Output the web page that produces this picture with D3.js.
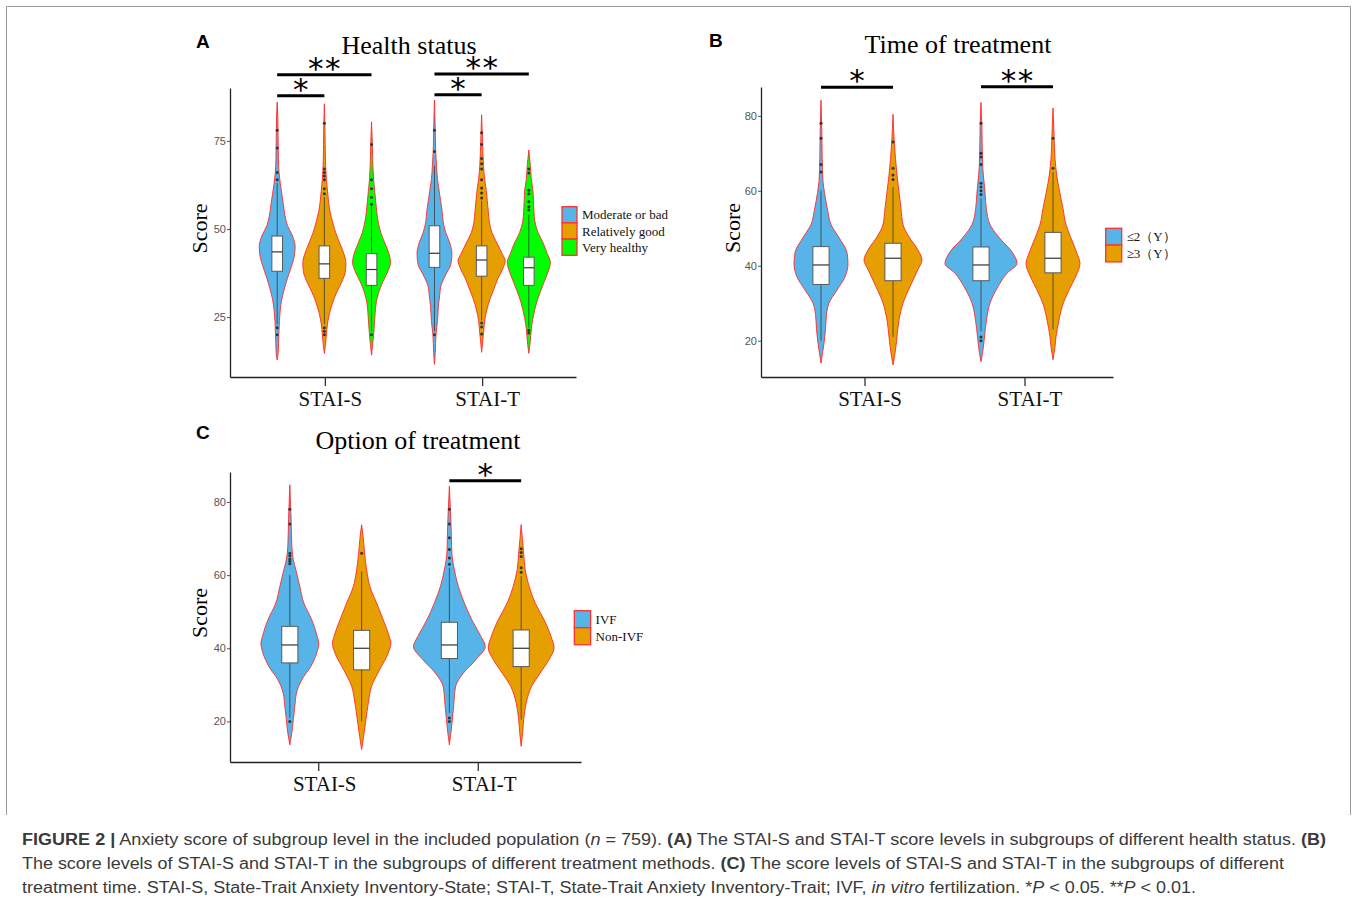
<!DOCTYPE html>
<html><head><meta charset="utf-8">
<script src="https://cdn.jsdelivr.net/npm/d3@7"></script>
<style>body{margin:0;background:#fff}</style>
</head><body>
<svg id="c" width="1357" height="910"></svg>
<script>
// ---------------- DATA ----------------
const categories = ["STAI-S", "STAI-T"];
const groupsA = ["Moderate or bad", "Relatively good", "Very healthy"];
const groupsB = ["≤2（Y）", "≥3（Y）"];
const groupsC = ["IVF", "Non-IVF"];
const colorsA = ["#56B4E9", "#E69F00", "#00FF00"];
const colorsBC = ["#56B4E9", "#E69F00"];
const yTicksA = [25, 50, 75];
const yTicksBC = [20, 40, 60, 80];
const yDomainA = [8, 90];
const yDomainB = [10.3, 87.7];
const yDomainC = [8.9, 88.2];

// violin profiles: [score, relative density]
const vA_S_mod = [[12.8,0],[15,1],[20,1.6],[24,2.2],[27,3],[30,4.5],[33,7],[36,10],[39,13.5],[42,16.5],[45,17.5],[48,15],[51,10],[54,7.5],[57,6],[60,4.5],[63,3],[66,1.8],[70,1.2],[76,0.9],[82,0.6],[86,0]];
const vA_S_rel = [[14.7,0],[17,1],[20,2],[23,3],[26,5],[29,8],[32,12],[35,17],[38,20.5],[40.5,21],[43,19],[46,15],[49,11],[52,8],[55,5.5],[58,4],[61,3],[64,2],[68,1.2],[74,0.8],[80,0.5],[85.5,0]];
const vA_S_vh  = [[14.2,0],[17,1],[20,2],[23,2.8],[26,3.5],[29,4.5],[32,7],[35,11],[38,16],[40.5,18.5],[43,17],[46,13],[49,9],[52,6.5],[55,5],[58,4],[61,3],[64,2],[68,1.3],[74,0.8],[80.4,0]];
const vA_T_mod = [[11.6,0],[15,0.8],[20,1.5],[24,3],[28,3.8],[31,5],[34,6.5],[37,11],[40,16],[43,17],[46,15],[49,11],[52,8.5],[55,7.5],[58,6],[61,4.5],[64,3],[68,2],[72,1.2],[78,0.8],[86.6,0]];
const vA_T_rel = [[15,0],[18,1],[21,2],[24,3],[27,5],[30,8],[33,12],[36,16],[39,21],[41,23],[43,20],[46,15],[49,10],[52,7.5],[55,6.5],[58,5.5],[61,4.5],[64,3],[68,1.8],[74,1],[82.4,0]];
const vA_T_vh  = [[14.7,0],[17,1],[20,2],[23,3],[26,5],[29,7.5],[32,11],[35,15],[38,19],[40.5,21],[43,18],[46,14],[49,9],[52,6],[55,5],[58,4.5],[61,4],[64,2.5],[68,1.5],[72.4,0]];

const vB_S_1 = [[14,0],[16.6,1.5],[19.3,3],[23,4.5],[27,5.5],[30,8],[33.5,16],[37,24],[40.5,27],[43.5,26],[47.5,18],[51,10],[55,6.5],[59.5,3.5],[62.5,2],[68.7,1.2],[76,0.8],[84.2,0]];
const vB_S_2 = [[13.5,0],[16.6,2],[21,4],[25.5,6],[30,10],[34.4,17],[39,25],[41.5,29],[44.2,25],[47.7,16],[51,10],[55.3,8],[59.7,6],[64.2,4],[68.6,2.5],[73,1.3],[80.4,0]];
const vB_T_1 = [[14.4,0],[16.6,1.5],[21,3.5],[25.5,5.5],[30,9],[34.4,17],[38,26],[40.6,36],[43.3,32],[47.7,17.5],[51,9],[55.3,5.3],[59.7,4],[62.4,3],[66,1.8],[72,1.2],[78,0.8],[83.6,0]];
const vB_T_2 = [[14.9,0],[18.4,2],[21,3],[25.5,6],[29,9],[33.5,16],[37,22.5],[40.6,27],[43.3,24],[47.7,17.5],[51,13],[55.3,10],[59.7,6.7],[64.2,3.7],[68.6,2],[75.3,1],[82.1,0]];

const vC_S_1 = [[13.6,0],[16.8,2],[20.5,3.5],[24.1,5],[27.8,6.7],[31.4,12],[35,21],[38.7,27],[41.4,29],[43.2,27.5],[47.8,22],[52.4,14],[56.9,10],[61.5,6],[64.2,3.5],[67.9,2],[75.2,1.3],[84.7,0]];
const vC_S_2 = [[12.3,0],[15.9,2],[20.5,4.3],[25,6.7],[29.6,10],[34.1,18],[38.7,26.7],[41.4,29.3],[43.2,27.7],[47.8,21.7],[52.4,15],[56.9,8.3],[61.5,5],[66,3],[70.6,1.5],[73.8,0]];
const vC_T_1 = [[13.6,0],[16.8,1.5],[20.5,3],[25,4.5],[29.6,6.3],[33.2,14],[36.9,26.7],[40.5,36],[43.2,31.7],[47.8,22.5],[52.4,15],[56.9,9],[61.5,5],[66,2.5],[70.6,2],[75.2,1.5],[84.3,0]];
const vC_T_2 = [[13.2,0],[17,1.5],[20.5,2.5],[25,5],[29.6,10.5],[33.2,19],[36.9,28],[40.1,33],[43.2,30],[47.8,23],[52.4,14],[56.9,8],[61.5,4],[66,2.5],[70,1.2],[73.8,0]];

// boxplot stats: category, group, q1, median, q3, whisker low, whisker high
const boxesA = [
  ["STAI-S", groupsA[0], 38, 43.5, 48, 23, 63],
  ["STAI-S", groupsA[1], 36, 40.1, 45.2, 23, 59],
  ["STAI-S", groupsA[2], 34, 38.5, 43, 21, 56.5],
  ["STAI-T", groupsA[0], 39.1, 43.1, 50.9, 21, 68],
  ["STAI-T", groupsA[1], 36.6, 41.2, 45.2, 24, 58],
  ["STAI-T", groupsA[2], 34, 39, 42, 22, 54]
];
const boxesB = [
  ["STAI-S", groupsB[0], 35, 40.2, 45.1, 20, 60],
  ["STAI-S", groupsB[1], 36, 42, 46, 21, 61],
  ["STAI-T", groupsB[0], 36, 40.2, 45, 22.5, 58],
  ["STAI-T", groupsB[1], 38.1, 42, 48.9, 23, 65]
];
const boxesC = [
  ["STAI-S", groupsC[0], 36, 40.9, 46, 21, 60],
  ["STAI-S", groupsC[1], 34.1, 40, 44.9, 20, 61],
  ["STAI-T", groupsC[0], 37.2, 40.9, 47.1, 22.3, 62],
  ["STAI-T", groupsC[1], 35, 40, 45, 20.5, 59.7]
];

// outliers
const outA = [
  ["STAI-S", groupsA[0], [78, 73, 66, 64, 22, 20]],
  ["STAI-S", groupsA[1], [80, 67, 66, 65, 64, 61.4, 60, 22, 21, 20]],
  ["STAI-S", groupsA[2], [74, 64, 61.4, 59, 57, 20]],
  ["STAI-T", groupsA[0], [78, 72, 20]],
  ["STAI-T", groupsA[1], [77.3, 74, 70, 68.5, 67, 64, 61.6, 60.2, 58.8, 23.3, 22.2, 20.2]],
  ["STAI-T", groupsA[2], [67, 65.9, 61, 60, 57.7, 56.3, 55.4, 21.3, 20.5]]
];
const outB = [
  ["STAI-S", groupsB[0], [78, 74, 67, 65]],
  ["STAI-S", groupsB[1], [73, 66, 64.2, 63]],
  ["STAI-T", groupsB[0], [78, 70, 69, 67, 62, 61, 60, 59, 21, 20]],
  ["STAI-T", groupsB[1], [74, 66]]
];
const outC = [
  ["STAI-S", groupsC[0], [78, 74, 66, 65.3, 64.4, 63.8, 63.1, 20]],
  ["STAI-S", groupsC[1], [66]],
  ["STAI-T", groupsC[0], [78, 74, 70.2, 67, 64.7, 63, 20.9, 20]],
  ["STAI-T", groupsC[1], [67.2, 66.2, 65.1, 62, 60.8]]
];

// significance: category, from group, to group, score level, label
const sigA = [
  ["STAI-S", groupsA[0], groupsA[1], 87.8, "*"],
  ["STAI-S", groupsA[0], groupsA[2], 93.75, "**"],
  ["STAI-T", groupsA[0], groupsA[1], 88.1, "*"],
  ["STAI-T", groupsA[0], groupsA[2], 94, "**"]
];
const sigB = [
  ["STAI-S", groupsB[0], groupsB[1], 87.6, "*"],
  ["STAI-T", groupsB[0], groupsB[1], 87.8, "**"]
];
const sigC = [
  ["STAI-T", groupsC[0], groupsC[1], 85.8, "*"]
];

// ---------------- DRAW ----------------
const svg = d3.select("#c");
const SERIF = "'Liberation Serif','Times New Roman',serif";
const SANS = "'Liberation Sans',Arial,sans-serif";

function drawPanel(cfg) {
  const g = svg.append("g");
  const y = d3.scaleLinear().domain(cfg.yDomain).range([cfg.bottom, cfg.top]);
  const x = d3.scaleBand().domain(categories).range([cfg.left, cfg.right])
    .paddingInner(0.1).paddingOuter(0.15);
  const xg = d3.scaleBand().domain(cfg.groups).range([0, x.bandwidth()]);
  const color = d3.scaleOrdinal().domain(cfg.groups).range(cfg.colors);
  const maxD = d3.max(cfg.violins, v => d3.max(v[2], p => p[1]));
  const w = d3.scaleLinear().domain([0, maxD]).range([0, xg.bandwidth() / 2]);
  const cx = (c, gr) => x(c) + xg(gr) + xg.bandwidth() / 2;

  // violins
  g.selectAll("path.violin").data(cfg.violins).join("path")
    .attr("class", "violin")
    .attr("d", v => d3.area().curve(d3.curveMonotoneY)
      .y(p => y(p[0]))
      .x0(p => cx(v[0], v[1]) - w(p[1]))
      .x1(p => cx(v[0], v[1]) + w(p[1]))(v[2]))
    .attr("fill", v => color(v[1]))
    .attr("stroke", "#ff2a2a").attr("stroke-width", 0.9);

  // boxes
  const bw = xg.bandwidth() * 0.225;
  cfg.boxes.forEach(b => {
    const c = cx(b[0], b[1]);
    g.append("line").attr("x1", c).attr("x2", c).attr("y1", y(b[5])).attr("y2", y(b[6]))
      .attr("stroke", "#3a3a3a").attr("stroke-width", 0.8);
    g.append("rect").attr("x", c - bw / 2).attr("width", bw)
      .attr("y", y(b[4])).attr("height", y(b[2]) - y(b[4]))
      .attr("fill", "#fff").attr("stroke", "#5a5a5a").attr("stroke-width", 1);
    g.append("line").attr("x1", c - bw / 2).attr("x2", c + bw / 2)
      .attr("y1", y(b[3])).attr("y2", y(b[3]))
      .attr("stroke", "#333").attr("stroke-width", 1.2);
  });

  // outliers
  cfg.outliers.forEach(o => {
    const c = cx(o[0], o[1]);
    g.selectAll(null).data(o[2]).join("circle")
      .attr("cx", c).attr("cy", d => y(d)).attr("r", 1.5).attr("fill", "#333");
  });

  // axes
  const ya = g.append("g").attr("transform", `translate(${cfg.left},0)`)
    .call(d3.axisLeft(y).tickValues(cfg.yTicks).tickSize(3).tickSizeOuter(0));
  ya.select(".domain").attr("stroke", "#222").attr("stroke-width", 1.3);
  ya.selectAll(".tick line").attr("stroke", "#555");
  ya.selectAll(".tick text").attr("fill", "#555").attr("font-size", 11)
    .attr("font-family", SANS).attr("x", -4);

  const xa = g.append("g").attr("transform", `translate(0,${cfg.bottom})`)
    .call(d3.axisBottom(x).tickSize(0).tickSizeOuter(0));
  xa.select(".domain").attr("stroke", "#222").attr("stroke-width", 1.3);
  xa.selectAll(".tick text").remove();
  // tick marks and labels (separately shifted as in the composed figure)
  categories.forEach(c => {
    const xc = x(c) + x.bandwidth() / 2;
    g.append("line").attr("x1", xc + cfg.tickShift).attr("x2", xc + cfg.tickShift)
      .attr("y1", cfg.bottom).attr("y2", cfg.bottom + 9).attr("stroke", "#333").attr("stroke-width", 1.3);
    g.append("text").attr("x", xc + cfg.labelShift).attr("y", cfg.bottom + 29)
      .attr("text-anchor", "middle").attr("font-family", SERIF).attr("font-size", 21)
      .attr("fill", "#111").text(c);
  });

  // y title
  g.append("text").attr("transform", `translate(${cfg.yTitleX},${(cfg.top + cfg.bottom) / 2 - 4}) rotate(-90)`)
    .attr("text-anchor", "middle").attr("font-family", SERIF).attr("font-size", 22)
    .attr("fill", "#000").text("Score");

  // title
  g.append("text").attr("x", cfg.titleX).attr("y", cfg.titleY).attr("text-anchor", "middle")
    .attr("font-family", SERIF).attr("font-size", 26).attr("fill", "#000").text(cfg.title);

  // panel letter
  g.append("text").attr("x", cfg.letterX).attr("y", cfg.letterY)
    .attr("font-family", SANS).attr("font-weight", "bold").attr("font-size", 19)
    .attr("fill", "#000").text(cfg.letter);

  // significance bars
  cfg.sig.forEach(s => {
    const x1 = cx(s[0], s[1]), x2 = cx(s[0], s[2]), yy = y(s[3]);
    g.append("line").attr("x1", x1).attr("x2", x2).attr("y1", yy).attr("y2", yy)
      .attr("stroke", "#000").attr("stroke-width", 3);
    const n = s[4].length, mid = (x1 + x2) / 2;
    for (let i = 0; i < n; i++) {
      g.append("text").attr("x", mid + (i - (n - 1) / 2) * 17).attr("y", yy + 4)
        .attr("text-anchor", "middle").attr("font-family", "'DejaVu Sans',sans-serif").attr("font-size", 31)
        .attr("fill", "#000").text("*");
    }
  });

  // legend
  const L = cfg.legend;
  cfg.groups.forEach((gr, i) => {
    g.append("rect").attr("x", L.x).attr("y", L.y + i * L.h).attr("width", L.w).attr("height", L.h)
      .attr("fill", color(gr)).attr("stroke", "#ff3030").attr("stroke-width", 1.3);
    g.append("text").attr("x", L.x + L.w + 5).attr("y", L.y + i * L.h + L.h / 2 + 4.5)
      .attr("font-family", SERIF).attr("font-size", 13).attr("fill", "#111").text(gr);
  });
}

drawPanel({
  letter: "A", letterX: 196, letterY: 48,
  title: "Health status", titleX: 409, titleY: 54,
  left: 230, right: 576, top: 88, bottom: 377,
  yDomain: yDomainA, yTicks: yTicksA, yTitleX: 207,
  tickShift: 1, labelShift: 6,
  groups: groupsA, colors: colorsA,
  violins: [
    ["STAI-S", groupsA[0], vA_S_mod], ["STAI-S", groupsA[1], vA_S_rel], ["STAI-S", groupsA[2], vA_S_vh],
    ["STAI-T", groupsA[0], vA_T_mod], ["STAI-T", groupsA[1], vA_T_rel], ["STAI-T", groupsA[2], vA_T_vh]
  ],
  boxes: boxesA, outliers: outA, sig: sigA,
  legend: { x: 562, y: 206.7, w: 15, h: 16.2 }
});

drawPanel({
  letter: "B", letterX: 709, letterY: 47,
  title: "Time of treatment", titleX: 958, titleY: 53,
  left: 761, right: 1113, top: 87, bottom: 377,
  yDomain: yDomainB, yTicks: yTicksBC, yTitleX: 740,
  tickShift: 8, labelShift: 13,
  groups: groupsB, colors: colorsBC,
  violins: [
    ["STAI-S", groupsB[0], vB_S_1], ["STAI-S", groupsB[1], vB_S_2],
    ["STAI-T", groupsB[0], vB_T_1], ["STAI-T", groupsB[1], vB_T_2]
  ],
  boxes: boxesB, outliers: outB, sig: sigB,
  legend: { x: 1105.7, y: 228.3, w: 16, h: 16.8 }
});

drawPanel({
  letter: "C", letterX: 196, letterY: 439,
  title: "Option of treatment", titleX: 418, titleY: 449,
  left: 230, right: 581, top: 472, bottom: 762,
  yDomain: yDomainC, yTicks: yTicksBC, yTitleX: 207,
  tickShift: -7, labelShift: -1,
  groups: groupsC, colors: colorsBC,
  violins: [
    ["STAI-S", groupsC[0], vC_S_1], ["STAI-S", groupsC[1], vC_S_2],
    ["STAI-T", groupsC[0], vC_T_1], ["STAI-T", groupsC[1], vC_T_2]
  ],
  boxes: boxesC, outliers: outC, sig: sigC,
  legend: { x: 574.3, y: 610.7, w: 16.3, h: 17 }
});

// frame
svg.append("path").attr("d", "M6.5,815 V6.5 H1350.5 V815")
  .attr("fill", "none").attr("stroke", "#9a9a9a").attr("stroke-width", 1);

// caption
const captionLines = [
  { y: 845, len: 1304, parts: [["FIGURE 2 |", "b"], [" Anxiety score of subgroup level in the included population (", ""], ["n", "i"], [" = 759). ", ""], ["(A)", "b"], [" The STAI-S and STAI-T score levels in subgroups of different health status. ", ""], ["(B)", "b"]] },
  { y: 869, len: 1262, parts: [["The score levels of STAI-S and STAI-T in the subgroups of different treatment methods. ", ""], ["(C)", "b"], [" The score levels of STAI-S and STAI-T in the subgroups of different", ""]] },
  { y: 893, len: 1174, parts: [["treatment time. STAI-S, State-Trait Anxiety Inventory-State; STAI-T, State-Trait Anxiety Inventory-Trait; IVF, ", ""], ["in vitro", "i"], [" fertilization. *", ""], ["P", "i"], [" < 0.05. **", ""], ["P", "i"], [" < 0.01.", ""]] }
];
captionLines.forEach(l => {
  const t = svg.append("text").attr("x", 22).attr("y", l.y)
    .attr("font-family", SANS).attr("font-size", 16).attr("fill", "#3a3a3a")
    .attr("textLength", l.len).attr("lengthAdjust", "spacingAndGlyphs")
    .style("white-space", "pre");
  l.parts.forEach(p => {
    t.append("tspan").attr("font-weight", p[1] === "b" ? "bold" : null)
      .attr("font-style", p[1] === "i" ? "italic" : null).text(p[0]);
  });
});
</script>
</body></html>
